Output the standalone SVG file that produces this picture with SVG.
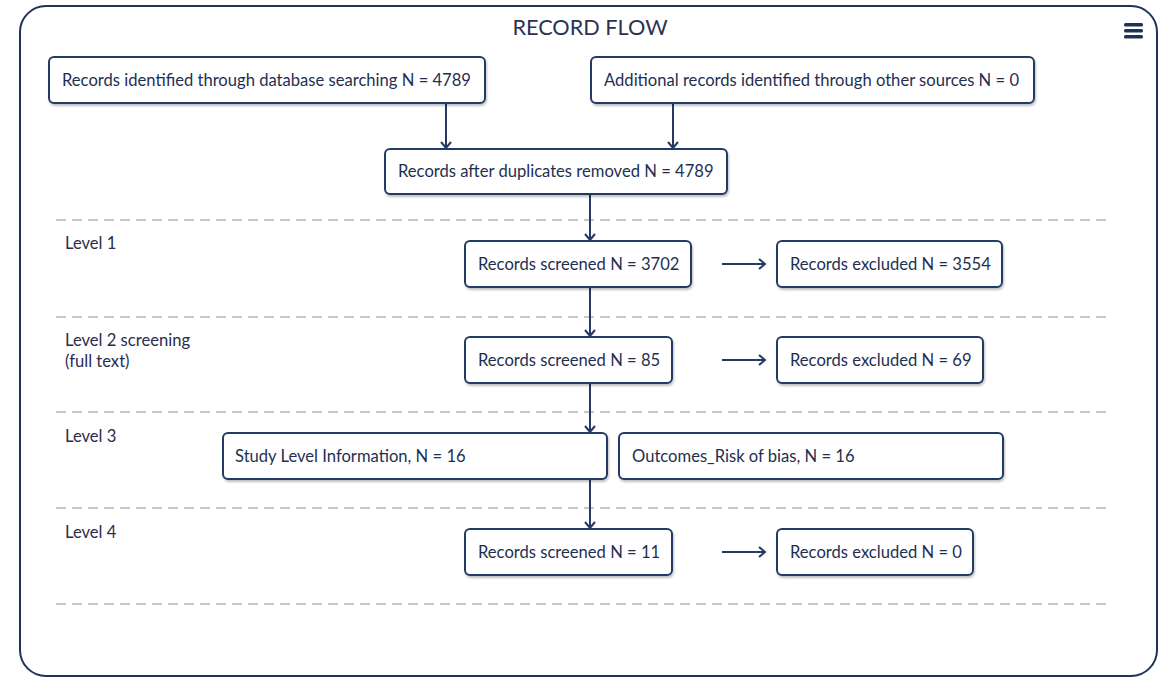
<svg xmlns="http://www.w3.org/2000/svg" width="1170" height="681" viewBox="0 0 1170 681">
  <defs>
    <style>
      .frame { fill: #ffffff; stroke: #1f3358; stroke-width: 2; }
      .box { fill: #ffffff; stroke: #243a62; stroke-width: 2; filter: url(#shadow); }
      .lbl { font-family: Lato, "Liberation Sans", sans-serif; font-size: 16.6px; fill: #1f2f52; }
      .lvl { font-family: Lato, "Liberation Sans", sans-serif; font-size: 16.6px; fill: #2c2c4e; }
      .title { font-family: Lato, "Liberation Sans", sans-serif; font-size: 21.7px; fill: #2a3352; }
      .sep { stroke: #c8c8c8; stroke-width: 2; stroke-dasharray: 10 6; fill: none; }
      .link { stroke: #243a62; stroke-width: 2; fill: none; marker-end: url(#head); }
    </style>
    <filter id="shadow" x="-5%" y="-20%" width="110%" height="150%">
      <feDropShadow dx="1" dy="2" stdDeviation="1.2" flood-color="#000000" flood-opacity="0.25"/>
    </filter>
    <marker id="head" viewBox="0 0 12 12" refX="11" refY="6" markerWidth="12" markerHeight="12" markerUnits="userSpaceOnUse" orient="auto">
      <path d="M5,1 L11,6 L5,11" fill="none" stroke="#243a62" stroke-width="2"/>
    </marker>
  </defs>

  <!-- outer panel -->
  <rect class="frame" x="20" y="6" width="1137" height="670" rx="26"/>
  <text class="title" x="590" y="35" text-anchor="middle">RECORD FLOW</text>

  <!-- menu icon -->
  <g id="menu" fill="#1f3358">
    <rect x="1124" y="23" width="19" height="3.5" rx="1.5"/>
    <rect x="1124" y="29" width="19" height="3.5" rx="1.5"/>
    <rect x="1124" y="35" width="19" height="3.5" rx="1.5"/>
  </g>

  <!-- level separators -->
  <g id="separators">
    <line class="sep" x1="56" y1="220" x2="1106" y2="220"/>
    <line class="sep" x1="56" y1="317" x2="1106" y2="317"/>
    <line class="sep" x1="56" y1="412" x2="1106" y2="412"/>
    <line class="sep" x1="56" y1="508" x2="1106" y2="508"/>
    <line class="sep" x1="56" y1="604" x2="1106" y2="604"/>
  </g>

  <!-- level labels -->
  <g id="levels">
    <text class="lvl" x="65" y="249">Level 1</text>
    <text class="lvl" x="65" y="346">Level 2 screening</text>
    <text class="lvl" x="65" y="367">(full text)</text>
    <text class="lvl" x="65" y="442">Level 3</text>
    <text class="lvl" x="65" y="538">Level 4</text>
  </g>

  <!-- connectors -->
  <g id="connectors">
    <line class="link" x1="446" y1="104" x2="446" y2="148"/>
    <line class="link" x1="673" y1="104" x2="673" y2="148"/>
    <line class="link" x1="590" y1="195" x2="590" y2="240"/>
    <line class="link" x1="590" y1="288" x2="590" y2="336"/>
    <line class="link" x1="590" y1="384" x2="590" y2="432"/>
    <line class="link" x1="590" y1="480" x2="590" y2="528"/>
    <line class="link" x1="722" y1="264" x2="765" y2="264"/>
    <line class="link" x1="722" y1="360" x2="765" y2="360"/>
    <line class="link" x1="722" y1="552" x2="765" y2="552"/>
  </g>

  <!-- nodes -->
  <g id="node-database">
    <rect class="box" x="49" y="57" width="436" height="46" rx="5"/>
    <text class="lbl" x="62" y="86">Records identified through database searching N = 4789</text>
  </g>
  <g id="node-other-sources">
    <rect class="box" x="591" y="57" width="443" height="46" rx="5"/>
    <text class="lbl" x="604" y="86">Additional records identified through other sources N = 0</text>
  </g>
  <g id="node-deduplicated">
    <rect class="box" x="385" y="149" width="342" height="45" rx="5"/>
    <text class="lbl" x="398" y="177">Records after duplicates removed N = 4789</text>
  </g>
  <g id="node-screened-1">
    <rect class="box" x="465" y="241" width="226" height="46" rx="5"/>
    <text class="lbl" x="478" y="270">Records screened N = 3702</text>
  </g>
  <g id="node-excluded-1">
    <rect class="box" x="777" y="241" width="225" height="46" rx="5"/>
    <text class="lbl" x="790" y="270">Records excluded N = 3554</text>
  </g>
  <g id="node-screened-2">
    <rect class="box" x="465" y="337" width="207" height="46" rx="5"/>
    <text class="lbl" x="478" y="366">Records screened N = 85</text>
  </g>
  <g id="node-excluded-2">
    <rect class="box" x="777" y="337" width="206" height="46" rx="5"/>
    <text class="lbl" x="790" y="366">Records excluded N = 69</text>
  </g>
  <g id="node-study-level">
    <rect class="box" x="223" y="433" width="384" height="46" rx="5"/>
    <text class="lbl" x="235" y="462">Study Level Information, N = 16</text>
  </g>
  <g id="node-outcomes">
    <rect class="box" x="619" y="433" width="384" height="46" rx="5"/>
    <text class="lbl" x="632" y="462">Outcomes_Risk of bias, N = 16</text>
  </g>
  <g id="node-screened-4">
    <rect class="box" x="465" y="529" width="207" height="46" rx="5"/>
    <text class="lbl" x="478" y="558">Records screened N = 11</text>
  </g>
  <g id="node-excluded-4">
    <rect class="box" x="777" y="529" width="196" height="46" rx="5"/>
    <text class="lbl" x="790" y="558">Records excluded N = 0</text>
  </g>
</svg>
